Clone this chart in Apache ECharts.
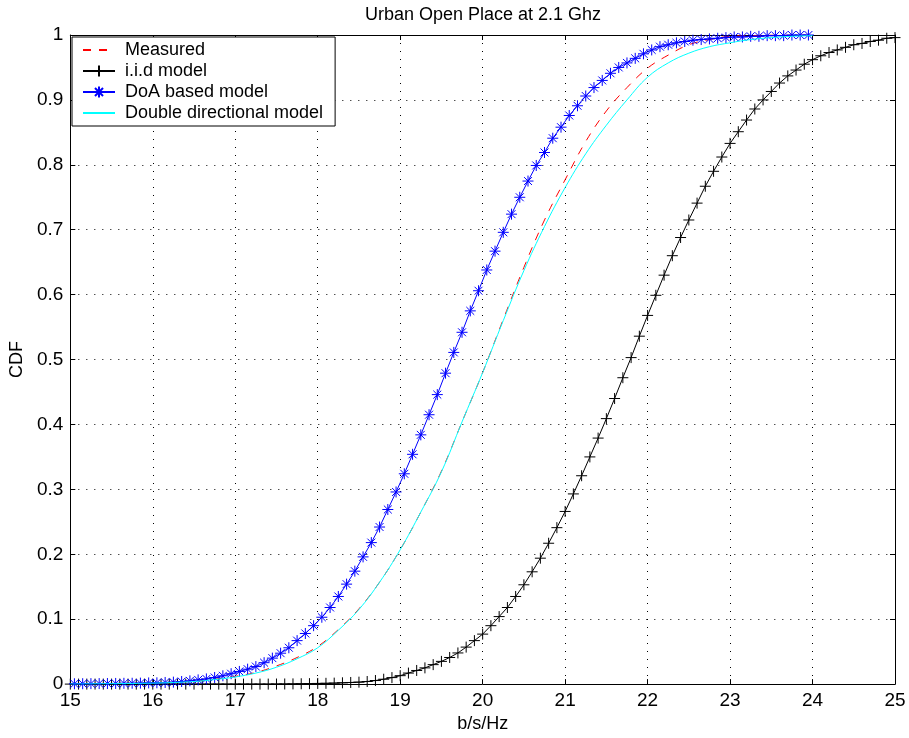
<!DOCTYPE html>
<html>
<head>
<meta charset="utf-8">
<script src="https://cdn.jsdelivr.net/npm/echarts@6/dist/echarts.min.js"></script>
<style>html,body{margin:0;padding:0;background:#fff}#c{width:909px;height:738px}</style>
</head>
<body>
<div id="c"></div>
<script>
// ---------- data ----------
const titleText = 'Urban Open Place at 2.1 Ghz';
const xName = 'b/s/Hz';
const yName = 'CDF';
const seriesNames = ['Measured', 'i.i.d model', 'DoA based model', 'Double directional model'];

// Measured & Double directional: x grid (b/s/Hz)
const xSmooth = [15,15.25,15.5,15.75,16,16.25,16.5,16.75,17,17.25,17.5,17.75,18,18.25,18.5,18.75,19,19.25,19.5,19.75,20,20.25,20.5,20.75,21,21.25,21.5,21.75,22,22.25,22.5,22.75,23,23.25,23.5,23.75,24];
const measured = [0,0.0003,0.0006,0.001,0.0017,0.0027,0.0045,0.0075,0.012,0.018,0.028,0.041,0.058,0.084,0.116,0.157,0.207,0.265,0.328,0.404,0.48,0.562,0.642,0.715,0.777,0.836,0.883,0.919,0.949,0.969,0.985,0.993,0.998,0.999,1,1,1];
const doubleDir = [0,0.0003,0.0006,0.001,0.0015,0.0025,0.004,0.007,0.011,0.017,0.026,0.039,0.056,0.083,0.115,0.157,0.207,0.265,0.327,0.404,0.48,0.56,0.637,0.705,0.765,0.817,0.861,0.9,0.935,0.957,0.972,0.982,0.988,0.993,0.996,0.998,0.999];

// i.i.d model
const xIid = [15,15.1,15.2,15.3,15.4,15.5,15.6,15.7,15.8,15.9,16,16.1,16.2,16.3,16.4,16.5,16.6,16.7,16.8,16.9,17,17.1,17.2,17.3,17.4,17.5,17.6,17.7,17.8,17.9,18,18.1,18.2,18.3,18.4,18.5,18.6,18.7,18.8,18.9,19,19.1,19.2,19.3,19.4,19.5,19.6,19.7,19.8,19.9,20,20.1,20.2,20.3,20.4,20.5,20.6,20.7,20.8,20.9,21,21.1,21.2,21.3,21.4,21.5,21.6,21.7,21.8,21.9,22,22.1,22.2,22.3,22.4,22.5,22.6,22.7,22.8,22.9,23,23.1,23.2,23.3,23.4,23.5,23.6,23.7,23.8,23.9,24,24.1,24.2,24.3,24.4,24.5,24.6,24.7,24.8,24.9,25];
const iid = [0,0,0,0,0,0,0,0,0,0,0,0,0,0,0,0,0,0,0,0,0,0,0,0,0,0.0001,0.0002,0.0003,0.0005,0.0007,0.001,0.0012,0.0015,0.002,0.0025,0.003,0.004,0.0055,0.0075,0.01,0.013,0.017,0.021,0.025,0.03,0.035,0.041,0.048,0.057,0.067,0.077,0.09,0.104,0.118,0.135,0.153,0.173,0.194,0.217,0.241,0.266,0.293,0.321,0.35,0.379,0.409,0.44,0.472,0.503,0.536,0.568,0.599,0.63,0.66,0.688,0.715,0.741,0.767,0.79,0.812,0.833,0.851,0.869,0.886,0.9,0.913,0.926,0.937,0.946,0.955,0.962,0.968,0.973,0.977,0.981,0.985,0.987,0.99,0.992,0.995,0.996];

// DoA based model
const xDoa = [15.05,15.15,15.25,15.35,15.45,15.55,15.65,15.75,15.85,15.95,16.05,16.15,16.25,16.35,16.45,16.55,16.65,16.75,16.85,16.95,17.05,17.15,17.25,17.35,17.45,17.55,17.65,17.75,17.85,17.95,18.05,18.15,18.25,18.35,18.45,18.55,18.65,18.75,18.85,18.95,19.05,19.15,19.25,19.35,19.45,19.55,19.65,19.75,19.85,19.95,20.05,20.15,20.25,20.35,20.45,20.55,20.65,20.75,20.85,20.95,21.05,21.15,21.25,21.35,21.45,21.55,21.65,21.75,21.85,21.95,22.05,22.15,22.25,22.35,22.45,22.55,22.65,22.75,22.85,22.95,23.05,23.15,23.25,23.35,23.45,23.55,23.65,23.75,23.85,23.95];
const doa = [0.0005,0.0006,0.0007,0.0008,0.0009,0.001,0.0012,0.0013,0.0015,0.0018,0.002,0.0025,0.003,0.004,0.005,0.0065,0.008,0.0102,0.0128,0.016,0.0195,0.023,0.027,0.033,0.04,0.0476,0.056,0.067,0.078,0.09,0.103,0.118,0.135,0.154,0.174,0.196,0.218,0.242,0.269,0.296,0.324,0.354,0.384,0.415,0.446,0.479,0.511,0.542,0.575,0.606,0.638,0.667,0.696,0.724,0.75,0.775,0.799,0.819,0.841,0.858,0.876,0.891,0.906,0.919,0.93,0.941,0.95,0.957,0.964,0.971,0.977,0.982,0.985,0.988,0.99,0.992,0.993,0.994,0.995,0.996,0.997,0.997,0.998,0.998,0.999,0.999,0.999,1,1,1];

const xTicks = [15,16,17,18,19,20,21,22,23,24,25];
const yTicks = [0,0.1,0.2,0.3,0.4,0.5,0.6,0.7,0.8,0.9,1];

// ---------- chart ----------
const FONT = '"Liberation Sans", Arial, Helvetica, sans-serif';
const FS = 18;
const TFS = 19;
const pairs = (xs, ys) => xs.map((x, i) => [x, ys[i]]);
const STAR = 'path://M0,-5L0,5M-5,0L5,0M-3.6,-3.6L3.6,3.6M-3.6,3.6L3.6,-3.6';
const PLUS = 'path://M0,-5L0,5M-5,0L5,0';

const chart = echarts.init(document.getElementById('c'), null, {renderer: 'canvas'});
const grid = {left: 70, right: 14, top: 35, bottom: 52, containLabel: false};
const dotted = {show: true, lineStyle: {color: '#000', width: 1, type: [1, 7]}};
const tick = {show: true, inside: true, length: 5, lineStyle: {color: '#000', width: 1}};
const axLine = {show: true, onZero: false, lineStyle: {color: '#000', width: 1}};

chart.setOption({
  animation: false,
  backgroundColor: '#fff',
  textStyle: {fontFamily: FONT},
  grid: grid,
  graphic: [{
    type: 'text', x: 483, y: 6, z: 100,
    style: {text: titleText, font: FS + 'px ' + FONT, fill: '#000', textAlign: 'center', textVerticalAlign: 'top'}
  }],
  legend: {
    orient: 'vertical', left: 72, top: 37,
    padding: [4, 12, 4, 10], itemGap: 3, itemWidth: 32, itemHeight: 14,
    backgroundColor: '#fff', borderColor: '#000', borderWidth: 1, borderRadius: 0,
    selectedMode: false,
    textStyle: {fontSize: FS, color: '#000', fontFamily: FONT, lineHeight: 18, padding: [0, 0, 0, 5]},
    data: [
      {name: seriesNames[0], itemStyle: {opacity: 0}},
      {name: seriesNames[1]},
      {name: seriesNames[2]},
      {name: seriesNames[3], itemStyle: {opacity: 0}}
    ]
  },
  xAxis: [{
    type: 'value', min: xTicks[0], max: xTicks[xTicks.length - 1], interval: 1,
    position: 'bottom', name: xName, nameLocation: 'middle', nameGap: 24,
    nameTextStyle: {fontSize: FS, color: '#000', fontFamily: FONT},
    axisLine: axLine, axisTick: tick,
    axisLabel: {fontSize: TFS, color: '#000', fontFamily: FONT, margin: 7},
    splitLine: dotted
  }, {
    type: 'value', min: xTicks[0], max: xTicks[xTicks.length - 1], interval: 1,
    position: 'top', axisLine: axLine, axisTick: tick, axisLabel: {show: false}, splitLine: {show: false}
  }],
  yAxis: [{
    type: 'value', min: yTicks[0], max: yTicks[yTicks.length - 1], interval: 0.1,
    position: 'left', name: yName, nameLocation: 'middle', nameGap: 44, nameRotate: 90,
    nameTextStyle: {fontSize: FS, color: '#000', fontFamily: FONT},
    axisLine: axLine, axisTick: tick,
    axisLabel: {fontSize: TFS, color: '#000', fontFamily: FONT, margin: 7,
      formatter: v => (Math.abs(v) < 1e-9 ? '0' : Math.abs(v - 1) < 1e-9 ? '1' : v.toFixed(1))},
    splitLine: dotted
  }, {
    type: 'value', min: yTicks[0], max: yTicks[yTicks.length - 1], interval: 0.1,
    position: 'right', axisLine: axLine, axisTick: tick, axisLabel: {show: false}, splitLine: {show: false}
  }],
  series: [{
    name: seriesNames[0], type: 'line', data: pairs(xSmooth, measured),
    symbol: 'none', showSymbol: false, smooth: 0.4,
    itemStyle: {color: '#ff0000'},
    lineStyle: {color: '#ff0000', width: 1, type: [8, 8]}, z: 3
  }, {
    name: seriesNames[1], type: 'line', data: pairs(xIid, iid),
    symbol: PLUS, symbolSize: 11, showSymbol: true, showAllSymbol: true,
    itemStyle: {color: '#000', borderColor: '#000', borderWidth: 1},
    lineStyle: {color: '#000', width: 1}, z: 4
  }, {
    name: seriesNames[2], type: 'line', data: pairs(xDoa, doa),
    symbol: STAR, symbolSize: 11, showSymbol: true, showAllSymbol: true,
    itemStyle: {color: '#0000ff', borderColor: '#0000ff', borderWidth: 1},
    lineStyle: {color: '#0000ff', width: 1}, z: 5
  }, {
    name: seriesNames[3], type: 'line', data: pairs(xSmooth, doubleDir),
    symbol: 'none', showSymbol: false, smooth: 0.4,
    itemStyle: {color: '#00ffff'},
    lineStyle: {color: '#00ffff', width: 1}, z: 6
  }]
});
</script>
</body>
</html>
